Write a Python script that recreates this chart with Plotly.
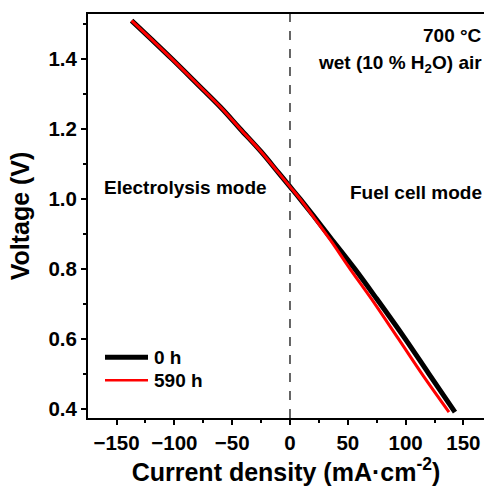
import plotly.graph_objects as go

# Current density (mA cm^-2) and voltage (V)
j_0h = [-137, -120, -102, -80, -60, -43, -25, -10, 0, 8.7, 20, 35, 56, 75, 99.5, 120, 142.7]
v_0h = [1.51, 1.457, 1.40, 1.328, 1.262, 1.20, 1.135, 1.075, 1.035, 1.0, 0.953, 0.889, 0.80, 0.714, 0.60, 0.50, 0.39]

j_590h = [-137, -120, -102, -80, -60, -43, -25, -10, 0, 8.7, 20, 35, 51.9, 70, 93.7, 115, 137.5]
v_590h = [1.51, 1.457, 1.40, 1.328, 1.262, 1.20, 1.135, 1.075, 1.035, 1.0, 0.950, 0.882, 0.80, 0.716, 0.60, 0.495, 0.39]

series_names = ["0 h", "590 h"]
x_ticks = [-150, -100, -50, 0, 50, 100, 150]
y_ticks = [0.4, 0.6, 0.8, 1.0, 1.2, 1.4]

FONT = "Liberation Sans, Arial, sans-serif"

fig = go.Figure()
fig.add_trace(go.Scatter(x=j_0h, y=v_0h, mode="lines", name=series_names[0],
                         line=dict(color="black", width=5, shape="spline"), showlegend=False))
fig.add_trace(go.Scatter(x=j_590h, y=v_590h, mode="lines", name=series_names[1],
                         line=dict(color="#ff0000", width=3, shape="spline"), showlegend=False))

axis_common = dict(
    showgrid=False, zeroline=False, showline=True, linecolor="black", linewidth=2,
    ticks="outside", tickcolor="black", tickwidth=1.5, ticklen=5,
    tickfont=dict(family=FONT, size=20.5, color="black", weight="bold"),
)

fig.update_xaxes(
    range=[-174.7, 167.8], tickvals=x_ticks, mirror=True,
    minor=dict(tickvals=[-175, -125, -75, -25, 25, 75, 125], ticklen=3, tickwidth=1.5, tickcolor="black", ticks="outside"),
    title=dict(text="Current density (mA·cm<sup>-2</sup>)", standoff=14,
               font=dict(family=FONT, size=25, color="black", weight="bold")),
    **axis_common,
)
fig.update_yaxes(
    range=[0.373, 1.529], tickvals=y_ticks, tickformat=".1f",
    minor=dict(tickvals=[0.5, 0.7, 0.9, 1.1, 1.3, 1.5], ticklen=3, tickwidth=1.5, tickcolor="black", ticks="outside"),
    title=dict(text="Voltage (V)", standoff=12,
               font=dict(family=FONT, size=25, color="black", weight="bold")),
    **axis_common,
)

shapes = [
    dict(type="line", xref="x", yref="paper", x0=0, x1=0, y0=0, y1=1,
         line=dict(color="#333333", width=1.5, dash="dash")),
    # legend samples
    dict(type="line", xref="paper", yref="paper", x0=(105 - 88) / 396, x1=(148 - 88) / 396,
         y0=(417.7 - 357) / 403.7, y1=(417.7 - 357) / 403.7, line=dict(color="black", width=5)),
    dict(type="line", xref="paper", yref="paper", x0=(105 - 88) / 396, x1=(148 - 88) / 396,
         y0=(417.7 - 380) / 403.7, y1=(417.7 - 380) / 403.7, line=dict(color="#ff0000", width=2.5)),
]

def ann(text, x, y, xanchor="left", size=19):
    return dict(text=text, xref="paper", yref="paper", x=(x - 88) / 396, y=(417.7 - y) / 403.7,
                xanchor=xanchor, yanchor="middle", showarrow=False,
                font=dict(family=FONT, size=size, color="black", weight="bold"))

annotations = [
    ann(series_names[0], 152, 357),
    ann(series_names[1], 152, 380),
    ann("Electrolysis mode", 102, 187),
    ann("Fuel cell mode", 484, 192, xanchor="right"),
    ann("700 °C", 484, 35, xanchor="right"),
    ann("wet (10 % H<sub>2</sub>O) air", 484, 64, xanchor="right"),
]

fig.update_layout(
    width=484, height=486,
    margin=dict(l=88, r=0, t=14, b=68.3),
    paper_bgcolor="white", plot_bgcolor="white",
    shapes=shapes, annotations=annotations,
    font=dict(family=FONT, color="black"),
)

fig.write_html("out.html")
